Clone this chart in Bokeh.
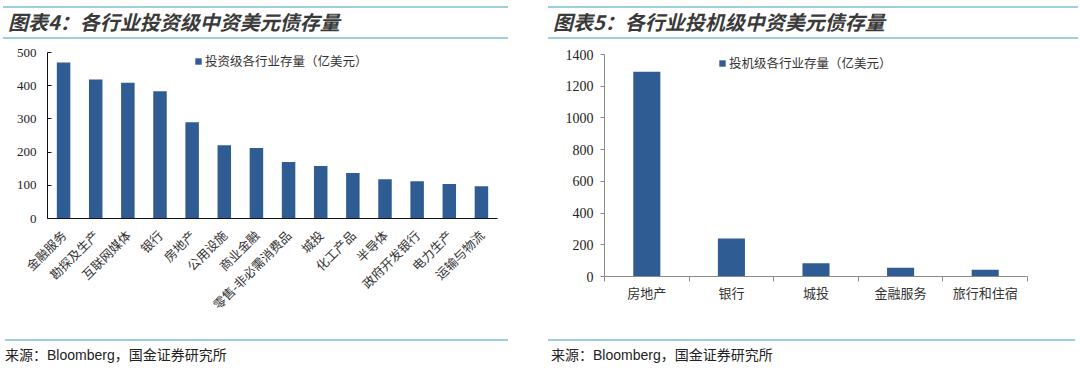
import math
from bokeh.plotting import figure
from bokeh.models import (Div, FixedTicker, Range1d, FactorRange, ColumnDataSource,
                          Legend, LegendItem)
from bokeh.layouts import row, column
from bokeh.embed import file_html
from bokeh.resources import INLINE

# ---------------- data ----------------
left_title = "图表4：各行业投资级中资美元债存量"
left_legend = "投资级各行业存量（亿美元）"
left_categories = ["金融服务", "勘探及生产", "互联网媒体", "银行", "房地产", "公用设施",
                   "商业金融", "零售-非必需消费品", "城投", "化工产品", "半导体",
                   "政府开发银行", "电力生产", "运输与物流"]
left_values = [470, 419, 409, 383, 290, 221, 212, 170, 158, 137, 118, 112, 104, 97]
left_ticks = [0, 100, 200, 300, 400, 500]

right_title = "图表5：各行业投机级中资美元债存量"
right_legend = "投机级各行业存量（亿美元）"
right_categories = ["房地产", "银行", "城投", "金融服务", "旅行和住宿"]
right_values = [1292, 240, 84, 55, 42]
right_ticks = [0, 200, 400, 600, 800, 1000, 1200, 1400]

source_cjk_a = "来源："
source_latin = "Bloomberg"
source_cjk_b = "，国金证券研究所"

# ---------------- style ----------------
BAR = "#2f5c93"
LINE = "#9dd0dc"
GRAY = "#8a8a8a"
CJK = "Noto Sans CJK SC"
SERIF = "Liberation Serif"
PW = 540
HEAD_H = 41
FIG_H = 290
FOOT_H = 41


def header(text, line_left, line_width, pad_left):
    html = (f'<div style="box-sizing:border-box;width:{line_width}px;height:33px;margin-top:6px;'
            f'margin-left:{line_left}px;border-top:2px solid {LINE};border-bottom:2px solid {LINE};'
            f'padding-left:{pad_left}px;padding-top:2px;'
            f"font-family:'{CJK}';font-size:20px;font-weight:bold;font-style:italic;line-height:24px;"
            f'color:#3a3a3a;white-space:nowrap;">{text}</div>')
    return Div(text=html, width=PW, height=HEAD_H, margin=0)


def footer(line_left, line_width, pad_left):
    html = (f'<div style="box-sizing:border-box;width:{line_width}px;height:30px;margin-top:8px;'
            f'margin-left:{line_left}px;border-top:2px solid {LINE};padding-left:{pad_left}px;'
            f'padding-top:2px;font-size:14px;line-height:22px;color:#222;white-space:nowrap;">'
            f"<span style=\"font-family:'{CJK}'\">{source_cjk_a}</span>"
            f"<span style=\"font-family:'Liberation Sans'\">{source_latin}</span>"
            f"<span style=\"font-family:'{CJK}'\">{source_cjk_b}</span></div>")
    return Div(text=html, width=PW, height=FOOT_H, margin=0)


def style_legend(leg):
    leg.border_line_color = None
    leg.background_fill_alpha = 0
    leg.padding = 0
    leg.margin = 0
    leg.glyph_width = 8
    leg.glyph_height = 8
    leg.label_height = 13
    leg.label_standoff = 3
    leg.label_text_font = CJK
    leg.label_text_font_size = "12.5px"
    leg.label_text_color = "#333333"


# ---------------- left chart ----------------
src_l = ColumnDataSource(dict(cat=left_categories, val=left_values))
pl = figure(x_range=FactorRange(factors=left_categories), y_range=Range1d(0, left_ticks[-1]),
            width=PW, height=FIG_H, output_backend="svg", toolbar_location=None,
            min_border_left=47, min_border_right=43, min_border_top=11, min_border_bottom=113)
rl = pl.vbar(x="cat", top="val", width=0.42, source=src_l, fill_color=BAR, line_color=None)
leg_l = Legend(items=[LegendItem(label=left_legend, renderers=[rl])], location=(147, 148))
style_legend(leg_l)
pl.add_layout(leg_l)

pl.outline_line_color = None
pl.grid.visible = False
pl.yaxis.ticker = FixedTicker(ticks=left_ticks)
pl.yaxis.major_tick_in = 4
pl.yaxis.major_tick_out = 0
pl.yaxis.minor_tick_line_color = None
pl.yaxis.axis_line_color = "#111111"
pl.yaxis.major_tick_line_color = "#111111"
pl.yaxis.major_label_text_font = SERIF
pl.yaxis.major_label_text_font_size = "13px"
pl.yaxis.major_label_text_color = "#222222"
pl.yaxis.major_label_standoff = 11
pl.xaxis.axis_line_color = "#111111"
pl.xaxis.major_tick_line_color = None
pl.xaxis.major_label_orientation = math.pi / 4
pl.xaxis.major_label_text_font = CJK
pl.xaxis.major_label_text_font_size = "12.5px"
pl.xaxis.major_label_text_color = "#333333"
pl.xaxis.major_label_standoff = 8

# ---------------- right chart (numeric x so edge ticks sit between categories) ----------------
n_r = len(right_categories)
centers_r = [i + 0.5 for i in range(n_r)]
src_r = ColumnDataSource(dict(x=centers_r, val=right_values))
pr = figure(x_range=Range1d(0, n_r), y_range=Range1d(0, right_ticks[-1]),
            width=PW, height=FIG_H, output_backend="svg", toolbar_location=None,
            min_border_left=64, min_border_right=53, min_border_top=13, min_border_bottom=55)
rr = pr.vbar(x="x", top="val", width=0.32, source=src_r, fill_color=BAR, line_color=None)
leg_r = Legend(items=[LegendItem(label=right_legend, renderers=[rr])], location=(114, 204))
style_legend(leg_r)
pr.add_layout(leg_r)

pr.outline_line_color = None
pr.grid.visible = False
pr.yaxis.ticker = FixedTicker(ticks=right_ticks)
pr.yaxis.major_tick_in = 0
pr.yaxis.major_tick_out = 4
pr.yaxis.minor_tick_line_color = None
pr.yaxis.axis_line_color = GRAY
pr.yaxis.major_tick_line_color = GRAY
pr.yaxis.major_label_text_font = SERIF
pr.yaxis.major_label_text_font_size = "14px"
pr.yaxis.major_label_text_color = "#222222"
pr.yaxis.major_label_standoff = 7

pr.xaxis.ticker = FixedTicker(ticks=centers_r, minor_ticks=list(range(n_r + 1)))
pr.xaxis.major_label_overrides = {c: name for c, name in zip(centers_r, right_categories)}
pr.xaxis.axis_line_color = GRAY
pr.xaxis.major_tick_line_color = None
pr.xaxis.major_tick_in = 0
pr.xaxis.major_tick_out = 0
pr.xaxis.minor_tick_line_color = GRAY
pr.xaxis.minor_tick_in = 0
pr.xaxis.minor_tick_out = 5
pr.xaxis.major_label_text_font = CJK
pr.xaxis.major_label_text_font_size = "13px"
pr.xaxis.major_label_text_color = "#333333"
pr.xaxis.major_label_standoff = 1

# ---------------- layout ----------------
left_col = column(header(left_title, 3, 505, 5), pl, footer(5, 503, 0), spacing=0)
right_col = column(header(right_title, 8, 530, 5), pr, footer(8, 527, 3), spacing=0)
layout = row(left_col, right_col, spacing=0)

open("out.html", "w").write(file_html(layout, INLINE))
